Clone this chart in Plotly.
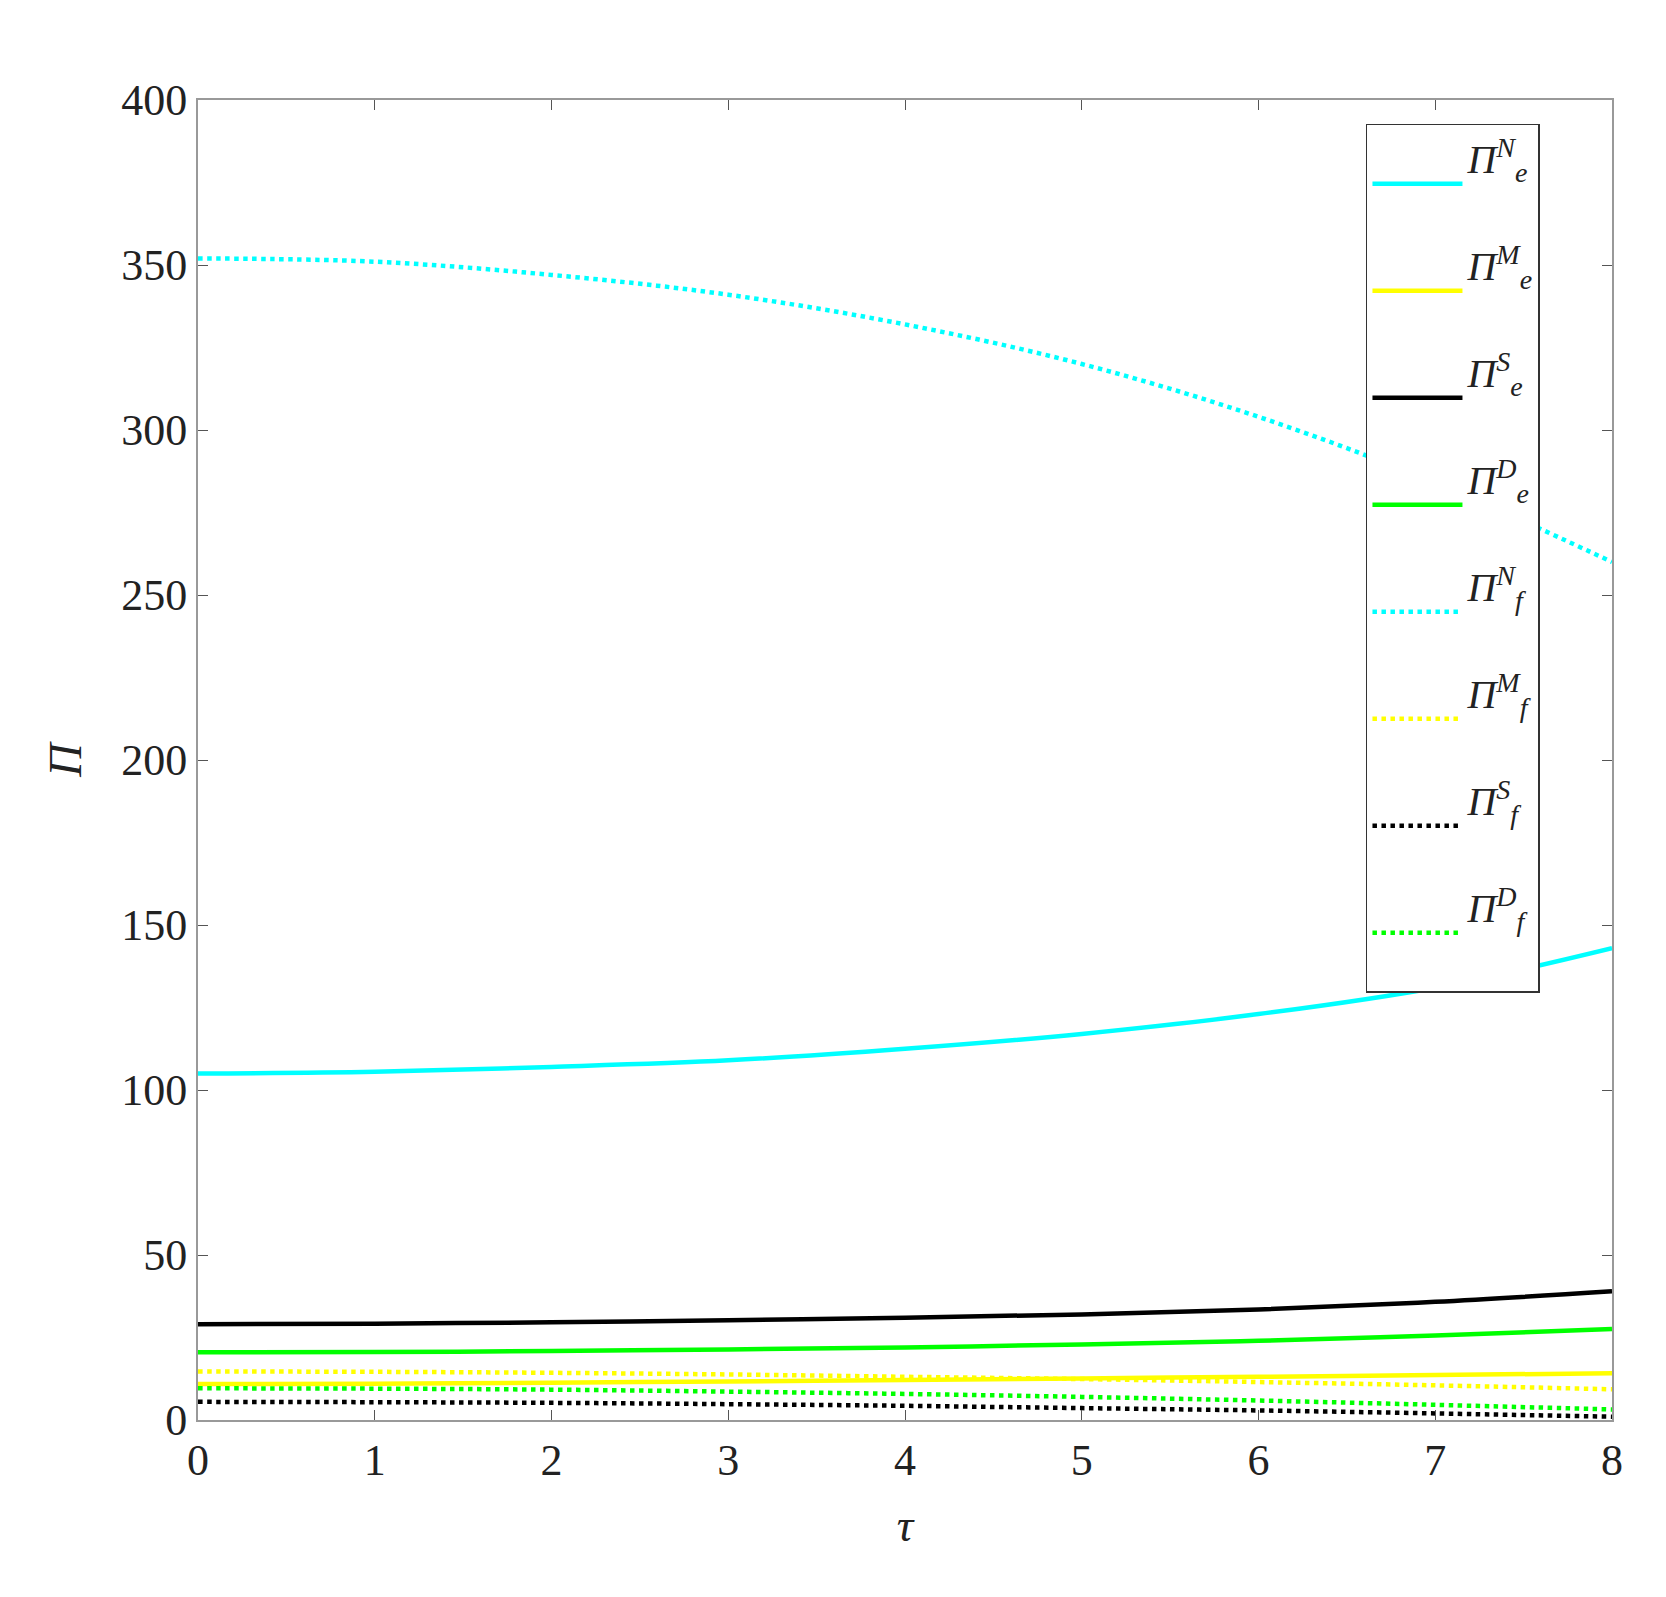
import plotly.graph_objects as go

tau = [0, 1, 2, 3, 4, 5, 6, 7, 8]

pi_e_N = [105, 105.5, 107, 109, 112.5, 117, 123, 131, 143]
pi_e_M = [10.9, 11, 11.3, 11.7, 12.1, 12.6, 13.1, 13.6, 14.2]
pi_e_S = [29, 29.2, 29.6, 30.2, 31, 32, 33.5, 35.8, 39]
pi_e_D = [20.5, 20.6, 20.9, 21.4, 22, 22.9, 24, 25.6, 27.6]
pi_f_N = [352, 351, 347, 341, 332, 320, 304, 284, 260]
pi_f_M = [14.7, 14.6, 14.3, 13.8, 13.1, 12.4, 11.5, 10.5, 9.3]
pi_f_S = [5.5, 5.4, 5.2, 4.8, 4.3, 3.6, 2.9, 2, 1]
pi_f_D = [9.6, 9.5, 9.2, 8.6, 7.9, 7, 5.9, 4.6, 3.2]

series = [
    ("e", "N", pi_e_N, "#00ffff", "solid"),
    ("e", "M", pi_e_M, "#ffff00", "solid"),
    ("e", "S", pi_e_S, "#000000", "solid"),
    ("e", "D", pi_e_D, "#00ff00", "solid"),
    ("f", "N", pi_f_N, "#00ffff", "dot"),
    ("f", "M", pi_f_M, "#ffff00", "dot"),
    ("f", "S", pi_f_S, "#000000", "dot"),
    ("f", "D", pi_f_D, "#00ff00", "dot"),
]

fig = go.Figure()
for sub, sup, vals, col, dash in series:
    fig.add_trace(go.Scatter(
        x=tau, y=vals, mode="lines", line_shape="spline",
        line=dict(color=col, width=4.5, dash=dash),
        name=f"<i>Π</i><sup><i>{sup}</i></sup><sub><i>{sub}</i></sub><br> ",
    ))

axis = dict(showline=True, linecolor="#999", linewidth=2, mirror="ticks",
            ticks="inside", ticklen=10, tickcolor="#555", showgrid=False,
            zeroline=False, tickfont=dict(size=44, color="#222"))
fig.update_layout(
    width=1666, height=1597, plot_bgcolor="white", paper_bgcolor="white",
    font=dict(family="Liberation Serif", color="#222"),
    margin=dict(l=190, r=62, t=92, b=185),
    xaxis=dict(axis, range=[0, 8], dtick=1,
               title=dict(text="<i>τ</i>", font=dict(size=46), standoff=25)),
    yaxis=dict(axis, range=[0, 400], dtick=50,
               title=dict(text="<i>Π</i>", font=dict(size=46), standoff=25)),
    legend=dict(x=0.826, y=0.982, xanchor="left", yanchor="top",
                bordercolor="#333", borderwidth=1.5, bgcolor="white",
                font=dict(size=40), itemwidth=90, tracegroupgap=0),
    showlegend=True,
)
fig.write_html("out.html")
